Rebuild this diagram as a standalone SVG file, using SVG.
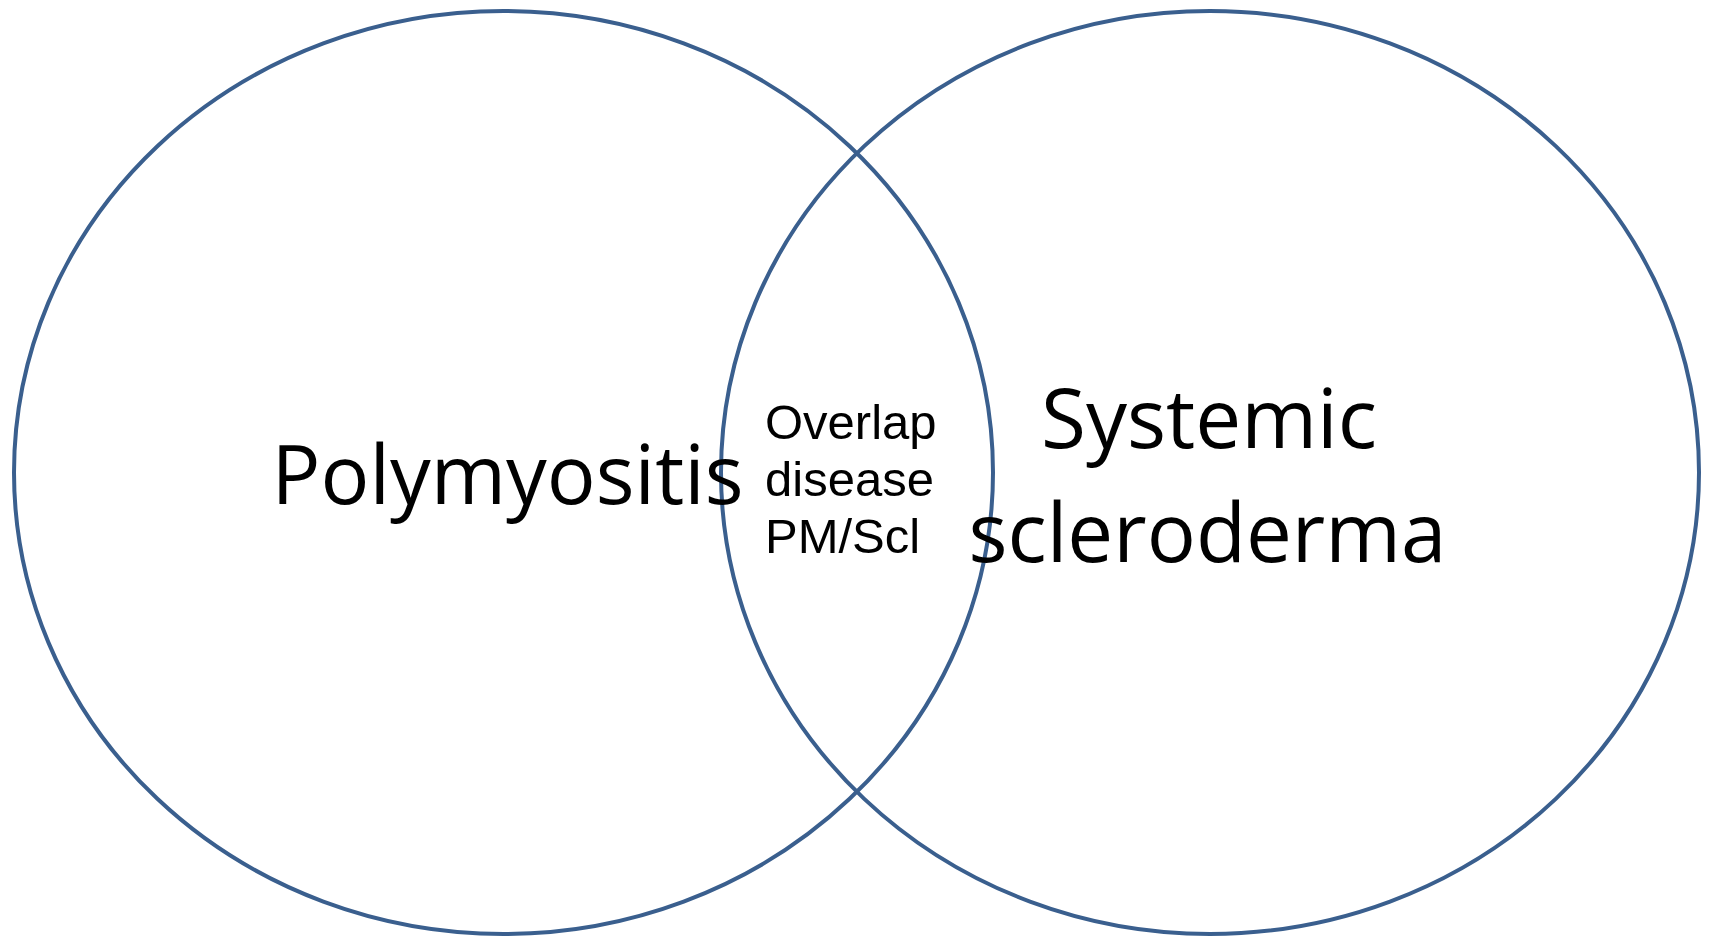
<svg xmlns="http://www.w3.org/2000/svg" width="1711" height="937" viewBox="0 0 1711 937">
  <style>
    .set { fill: none; stroke: #3A5F8E; stroke-width: 4; }
    .big { font-family: "Open Sans", "Noto Sans", sans-serif; font-size: 83px; fill: #000; text-anchor: middle; }
    .small { font-family: "Liberation Sans", Arial, sans-serif; font-size: 49px; fill: #000; }
  </style>
  <rect width="1711" height="937" fill="#fff"/>
  <!-- two overlapping sets -->
  <g id="polymyositis">
    <ellipse class="set" cx="503.5" cy="472.5" rx="489.5" ry="461.5"/>
  </g>
  <g id="scleroderma">
    <ellipse class="set" cx="1210" cy="472.5" rx="489" ry="461.5"/>
  </g>
  <g id="labels">
    <text class="big" x="507.5" y="504" textLength="472" lengthAdjust="spacingAndGlyphs">Polymyositis</text>
    <text class="big" x="1209" y="448" textLength="336" lengthAdjust="spacingAndGlyphs">Systemic</text>
    <text class="big" x="1207.5" y="562" textLength="478" lengthAdjust="spacingAndGlyphs">scleroderma</text>
  </g>
  <g id="overlap">
    <text class="small" x="765" y="439">Overlap</text>
    <text class="small" x="765" y="496">disease</text>
    <text class="small" x="765" y="553">PM/Scl</text>
  </g>
</svg>
